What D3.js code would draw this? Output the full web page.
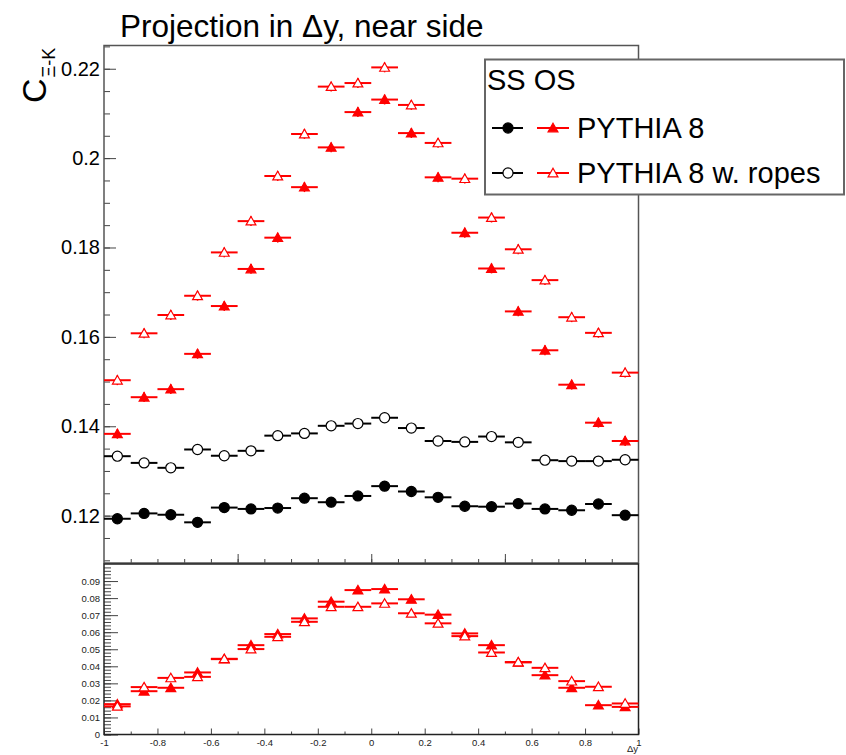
<!DOCTYPE html>
<html>
<head>
<meta charset="utf-8">
<script src="https://cdn.jsdelivr.net/npm/d3@7"></script>
<style>
  body { margin: 0; background: #fff; }
  svg { font-family: "Liberation Sans", Arial, sans-serif; }
</style>
</head>
<body>
<svg id="chart" width="846" height="755"></svg>
<script>
// bins in Δy
const binCenters = [-0.95, -0.85, -0.75, -0.65, -0.55, -0.45, -0.35, -0.25, -0.15, -0.05,
                    0.05, 0.15, 0.25, 0.35, 0.45, 0.55, 0.65, 0.75, 0.85, 0.95];
const binHalfWidth = 0.05;

// top panel: correlation values
const ssPythia = [0.1193, 0.1205, 0.1202, 0.1185, 0.1218, 0.1215, 0.1217, 0.1239, 0.1230, 0.1244,
                  0.1266, 0.1254, 0.1241, 0.1221, 0.1220, 0.1227, 0.1215, 0.1212, 0.1226, 0.1201];
const ssRopes = [0.1333, 0.1318, 0.1307, 0.1348, 0.1334, 0.1345, 0.1379, 0.1384, 0.1401, 0.1406,
                 0.1419, 0.1396, 0.1367, 0.1365, 0.1377, 0.1364, 0.1324, 0.1322, 0.1322, 0.1325];
const osPythia = [0.1383, 0.1465, 0.1483, 0.1562, 0.1669, 0.1752, 0.1822, 0.1935, 0.2024, 0.2103,
                  0.2131, 0.2056, 0.1957, 0.1833, 0.1753, 0.1657, 0.1570, 0.1493, 0.1408, 0.1367];
const osRopes = [0.1503, 0.1608, 0.1649, 0.1692, 0.1789, 0.1859, 0.1960, 0.2054, 0.2160, 0.2168,
                 0.2203, 0.2119, 0.2034, 0.1954, 0.1867, 0.1796, 0.1727, 0.1644, 0.1609, 0.1520];
const errTop = [0.0011, 0.0011, 0.0011, 0.0011, 0.0011, 0.0011, 0.0011, 0.0011, 0.0011, 0.0011,
                0.0011, 0.0011, 0.0011, 0.0011, 0.0011, 0.0011, 0.0011, 0.0011, 0.0011, 0.0011];

// bottom panel: OS - SS
const diffPythia = [0.0178, 0.0254, 0.0274, 0.0364, 0.0442, 0.0524, 0.0589, 0.0681, 0.0779, 0.0847,
                    0.0853, 0.0793, 0.0703, 0.0593, 0.0524, 0.0423, 0.0348, 0.0274, 0.0172, 0.0162];
const diffRopes = [0.0165, 0.0278, 0.0332, 0.0338, 0.0444, 0.0501, 0.0573, 0.0661, 0.0749, 0.0749,
                   0.0769, 0.0711, 0.0652, 0.0577, 0.0481, 0.0425, 0.0391, 0.0313, 0.0280, 0.0182];
const errBottom = [0.0008, 0.0008, 0.0008, 0.0008, 0.0008, 0.0008, 0.0008, 0.0008, 0.0008, 0.0008,
                   0.0008, 0.0008, 0.0008, 0.0008, 0.0008, 0.0008, 0.0008, 0.0008, 0.0008, 0.0008];

const topTicks = [0.12, 0.14, 0.16, 0.18, 0.2, 0.22];
const bottomTicks = [0, 0.01, 0.02, 0.03, 0.04, 0.05, 0.06, 0.07, 0.08, 0.09];
const xTicks = [-1, -0.8, -0.6, -0.4, -0.2, 0, 0.2, 0.4, 0.6, 0.8, 1];

const svg = d3.select("#chart");

const x = d3.scaleLinear().domain([-1, 1]).range([104, 638.5]);
const yTop = d3.scaleLinear().domain([0.1094, 0.2252]).range([563, 45.5]);
const yBot = d3.scaleLinear().domain([0, 0.1]).range([734.5, 564]);

const fmt = d => d3.format("~g")(d).replace("−", "-");

// ---------- top panel axes ----------
svg.append("g")
  .attr("transform", "translate(104,0)")
  .call(d3.axisLeft(yTop).tickValues(d3.range(0.11, 0.2251, 0.005)).tickSize(-6).tickFormat(""))
  .call(g => g.select(".domain").remove())
  .call(g => g.selectAll("line").attr("stroke", "#444"));

svg.append("g")
  .attr("transform", "translate(104,0)")
  .call(d3.axisLeft(yTop).tickValues(topTicks).tickSize(-12).tickPadding(4).tickFormat(fmt))
  .call(g => g.select(".domain").remove())
  .call(g => g.selectAll("line").attr("stroke", "#444"))
  .call(g => g.selectAll("text").attr("font-size", 20).attr("fill", "#000"));

svg.append("g")
  .attr("transform", "translate(0,563)")
  .call(d3.axisBottom(x).tickValues(d3.range(-0.9, 0.95, 0.1)).tickSize(-4).tickFormat(""))
  .call(g => g.select(".domain").remove())
  .call(g => g.selectAll("line").attr("stroke", "#444"));

svg.append("g")
  .attr("transform", "translate(0,563)")
  .call(d3.axisBottom(x).tickValues([-0.5, 0, 0.5]).tickSize(-9).tickFormat(""))
  .call(g => g.select(".domain").remove())
  .call(g => g.selectAll("line").attr("stroke", "#444"));

// top frame
svg.append("rect")
  .attr("x", x(-1)).attr("y", yTop(0.2252))
  .attr("width", x(1) - x(-1)).attr("height", yTop(0.1094) - yTop(0.2252))
  .attr("fill", "none").attr("stroke", "#555").attr("stroke-width", 1.5);

// ---------- bottom panel axes ----------
svg.append("g")
  .attr("transform", "translate(104,0)")
  .call(d3.axisLeft(yBot).tickValues(d3.range(0, 0.1, 0.002)).tickSize(-7).tickFormat(""))
  .call(g => g.select(".domain").remove())
  .call(g => g.selectAll("line").attr("stroke", "#444"));

svg.append("g")
  .attr("transform", "translate(104,0)")
  .call(d3.axisLeft(yBot).tickValues(bottomTicks).tickSize(-14).tickPadding(4).tickFormat(fmt))
  .call(g => g.select(".domain").remove())
  .call(g => g.selectAll("line").attr("stroke", "#444"))
  .call(g => g.selectAll("text").attr("font-size", 9.5).attr("fill", "#222"));

svg.append("g")
  .attr("transform", "translate(0,734.5)")
  .call(d3.axisBottom(x).tickValues(d3.range(-0.9, 0.95, 0.2)).tickSize(-3).tickFormat(""))
  .call(g => g.select(".domain").remove())
  .call(g => g.selectAll("line").attr("stroke", "#444"));

svg.append("g")
  .attr("transform", "translate(0,734.5)")
  .call(d3.axisBottom(x).tickValues(xTicks).tickSize(-6).tickPadding(5).tickFormat(fmt))
  .call(g => g.select(".domain").remove())
  .call(g => g.selectAll("line").attr("stroke", "#444"))
  .call(g => g.selectAll("text").attr("font-size", 9.5).attr("fill", "#222"));

svg.append("rect")
  .attr("x", x(-1)).attr("y", yBot(0.1))
  .attr("width", x(1) - x(-1)).attr("height", yBot(0) - yBot(0.1))
  .attr("fill", "none").attr("stroke", "#222").attr("stroke-width", 1.5);

svg.append("text")
  .attr("x", 638).attr("y", 752)
  .attr("text-anchor", "end").attr("font-size", 9.5).attr("fill", "#222")
  .text("Δy");

// ---------- markers ----------
const circle = d3.symbol().type(d3.symbolCircle).size(80);
const tri = d3.symbol().type(d3.symbolTriangle).size(42);

function drawSeries(yScale, values, errs, color, shape, filled, lw) {
  const g = svg.append("g");
  const pts = binCenters.map((c, i) => ({ c: c, v: values[i], e: errs[i] }));
  g.selectAll(".h").data(pts).join("line")
    .attr("x1", d => x(d.c - binHalfWidth)).attr("x2", d => x(d.c + binHalfWidth))
    .attr("y1", d => yScale(d.v)).attr("y2", d => yScale(d.v))
    .attr("stroke", color).attr("stroke-width", lw);
  g.selectAll(".v").data(pts).join("line")
    .attr("x1", d => x(d.c)).attr("x2", d => x(d.c))
    .attr("y1", d => yScale(d.v - d.e)).attr("y2", d => yScale(d.v + d.e))
    .attr("stroke", color).attr("stroke-width", 1.5);
  g.selectAll("path").data(pts).join("path")
    .attr("transform", d => `translate(${x(d.c)},${yScale(d.v) + (shape === tri ? 1 : 0)})`)
    .attr("d", shape)
    .attr("fill", filled ? color : "#fff")
    .attr("stroke", color).attr("stroke-width", 1.2);
}

drawSeries(yTop, ssPythia, errTop, "#000", circle, true, 2);
drawSeries(yTop, ssRopes, errTop.map(e => e * 0.5), "#000", circle, false, 2);
drawSeries(yTop, osPythia, errTop, "#ff0000", tri, true, 2);
drawSeries(yTop, osRopes, errTop, "#ff0000", tri, false, 2);

drawSeries(yBot, diffPythia, errBottom, "#ff0000", tri, true, 2);
drawSeries(yBot, diffRopes, errBottom, "#ff0000", tri, false, 2);

// ---------- title and axis title ----------
svg.append("text")
  .attr("x", 120).attr("y", 37)
  .attr("font-size", 31.5).attr("fill", "#000")
  .text("Projection in Δy, near side");

const yt = svg.append("text")
  .attr("transform", "translate(46,103) rotate(-90)")
  .attr("font-size", 34).attr("fill", "#000");
yt.append("tspan").text("C");
yt.append("tspan").attr("font-size", 18).attr("dy", 9).attr("dx", 1).text("Ξ-K");

// ---------- legend ----------
const leg = svg.append("g");
leg.append("rect")
  .attr("x", 485).attr("y", 59.5).attr("width", 359).attr("height", 135)
  .attr("fill", "#fff").attr("stroke", "#666").attr("stroke-width", 2);
leg.append("text").attr("x", 487).attr("y", 90).attr("font-size", 29).text("SS OS");

const legendRows = [
  { label: "PYTHIA 8", y: 128, filled: true },
  { label: "PYTHIA 8 w. ropes", y: 173, filled: false }
];
legendRows.forEach(r => {
  leg.append("line").attr("x1", 492).attr("x2", 523).attr("y1", r.y).attr("y2", r.y)
    .attr("stroke", "#000").attr("stroke-width", 2);
  leg.append("path").attr("transform", `translate(508,${r.y})`).attr("d", circle)
    .attr("fill", r.filled ? "#000" : "#fff").attr("stroke", "#000").attr("stroke-width", 1.2);
  leg.append("line").attr("x1", 537).attr("x2", 569).attr("y1", r.y).attr("y2", r.y)
    .attr("stroke", "#ff0000").attr("stroke-width", 2);
  leg.append("path").attr("transform", `translate(553,${r.y + 1})`).attr("d", tri)
    .attr("fill", r.filled ? "#ff0000" : "#fff").attr("stroke", "#ff0000").attr("stroke-width", 1.2);
  leg.append("text").attr("x", 577).attr("y", r.y).attr("dy", "0.36em")
    .attr("font-size", 29).text(r.label);
});
</script>
</body>
</html>
